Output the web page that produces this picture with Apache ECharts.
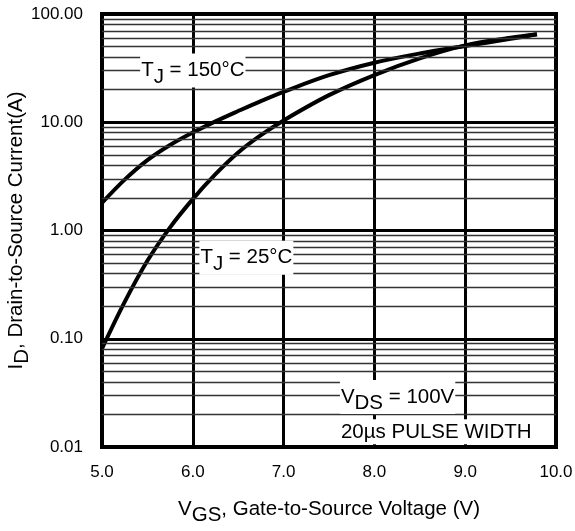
<!DOCTYPE html>
<html>
<head>
<meta charset="utf-8">
<script src="https://cdn.jsdelivr.net/npm/echarts@6/dist/echarts.min.js"></script>
<style>
html,body{margin:0;padding:0;background:#fff;}
#c{width:575px;height:531px;}
</style>
</head>
<body>
<div id="c"></div>
<script>
// Tj = 25°C curve (VGS in V, ID in A)
const vgs25 = [5.0, 5.25, 5.5, 5.75, 6.0, 6.25, 6.5, 6.75, 7.0, 7.5, 8.0, 8.5, 9.0, 9.5, 9.79];
const id25  = [0.081, 0.219, 0.525, 1.07, 1.95, 3.31, 5.25, 7.59, 10.4, 17.8, 27.3, 38.9, 51.3, 60.3, 65];
// Tj = 150°C curve
const vgs150 = [5.0, 5.25, 5.5, 5.75, 6.0, 6.25, 6.5, 6.75, 7.0, 7.5, 8.0, 8.5, 9.0, 9.5, 9.79];
const id150  = [1.8, 2.95, 4.47, 6.17, 8.04, 10.2, 12.7, 15.7, 19.1, 27.2, 35.5, 43.2, 50.7, 58.9, 65];
// minor grid values (log decades)
const minorY = [];
[0.01, 0.1, 1, 10].forEach(d => { for (let k = 2; k <= 9; k++) minorY.push(+(d * k).toPrecision(3)); });
// annotations
const annot150 = {x: 6.0, y: 30, text: '{m|T}{s|J}{m| = 150°C}'};
const annot25 = {x: 6.59, y: 0.56, text: '{m|T}{s|J}{m| = 25°C}'};
const annotVds = {x: 7.62, y: 0.029, text: '{m|V}{s|DS}{m| = 100V}'};
const annotPulse = {x: 7.62, y: 0.0138, text: '{m|20µs PULSE WIDTH}'};

const FONT = '"Liberation Sans", Arial, sans-serif';
const rich = {
  m: {fontSize: 20.5, fontFamily: FONT, color: '#000'},
  s: {fontSize: 20.5, fontFamily: FONT, color: '#000', padding: [13, 0, 0, 0]}
};

function pairs(xs, ys) { return xs.map((x, i) => [x, ys[i]]); }

const chart = echarts.init(document.getElementById('c'), null, {renderer: 'canvas'});
chart.setOption({
  animation: false,
  backgroundColor: '#fff',
  grid: {left: 102, right: 19, top: 14, bottom: 84, outerBoundsMode: 'none', containLabel: false,
         show: true, borderColor: '#000', borderWidth: 4, backgroundColor: 'transparent', z: 5},
  xAxis: {
    type: 'value', min: 5, max: 10, interval: 1,
    axisLine: {show: false}, axisTick: {show: false},
    axisLabel: {formatter: v => v.toFixed(1), fontSize: 17, color: '#000', fontFamily: FONT, margin: 17},
    splitLine: {show: true, lineStyle: {color: '#000', width: 3}},
    name: '{m|V}{s|GS}{m|, Gate-to-Source Voltage (V)}',
    nameLocation: 'middle', nameGap: 45, nameMoveOverlap: false,
    nameTextStyle: {rich: rich}
  },
  yAxis: {
    type: 'log', logBase: 10, min: 0.01, max: 100, splitNumber: 4,
    axisLine: {show: false}, axisTick: {show: false},
    axisLabel: {formatter: v => Number(v).toFixed(2), fontSize: 17, color: '#000', fontFamily: FONT, margin: 19, showMinLabel: true, showMaxLabel: true},
    splitLine: {show: true, lineStyle: {color: '#000', width: 3}},
    name: '{m|I}{s|D}{m|, Drain-to-Source Current(A)}',
    nameLocation: 'middle', nameGap: 69, nameRotate: 90, nameMoveOverlap: false,
    nameTextStyle: {rich: rich}
  },
  series: [
    {
      type: 'line', data: [], silent: true, z: 1,
      markLine: {
        silent: true, symbol: ['none', 'none'], animation: false,
        label: {show: false},
        lineStyle: {color: '#333', width: 1.3, type: 'solid'},
        data: minorY.map(v => ({yAxis: v}))
      }
    },
    {
      type: 'line', name: '25', data: pairs(vgs25, id25), smooth: 0.35,
      showSymbol: false, symbol: 'none', z: 3,
      lineStyle: {color: '#000', width: 4, cap: 'butt'}
    },
    {
      type: 'line', name: '150', data: pairs(vgs150, id150), smooth: 0.35,
      showSymbol: false, symbol: 'none', z: 3,
      lineStyle: {color: '#000', width: 4, cap: 'butt'}
    },
    {
      type: 'scatter', data: [], z: 4, silent: true,
      markPoint: {
        symbol: 'circle', symbolSize: 0, silent: true, animation: false,
        data: [
          {coord: [annot150.x, annot150.y], label: {show: true, position: 'inside', formatter: annot150.text, rich: rich, backgroundColor: '#fff', padding: [0, 1]}},
          {coord: [annot25.x, annot25.y], label: {show: true, position: 'inside', formatter: annot25.text, rich: rich, backgroundColor: '#fff', padding: [0, 1]}},
          {coord: [annotVds.x, annotVds.y], label: {show: true, position: 'right', distance: 0, formatter: annotVds.text, rich: rich, backgroundColor: '#fff', padding: [0, 1]}},
          {coord: [annotPulse.x, annotPulse.y], label: {show: true, position: 'right', distance: 0, formatter: annotPulse.text, rich: rich, backgroundColor: '#fff', padding: [2, 1]}}
        ]
      }
    }
  ]
});
</script>
</body>
</html>
